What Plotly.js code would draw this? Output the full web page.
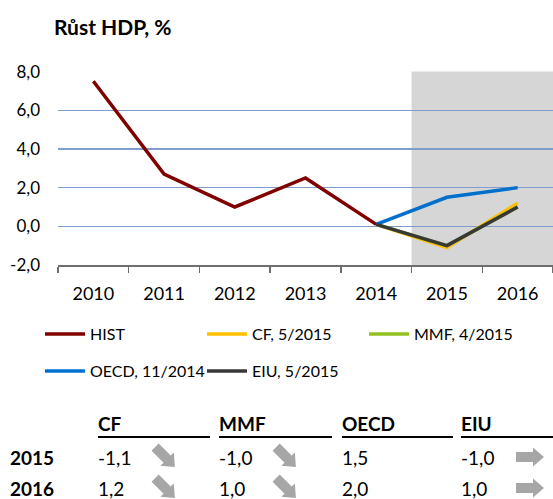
<!DOCTYPE html>
<html>
<head>
<meta charset="utf-8">
<script src="https://cdn.plot.ly/plotly-3.0.1.min.js"></script>
<style>
html,body{margin:0;padding:0;background:#fff;}
#chart{width:553px;height:499px;}
</style>
</head>
<body>
<div id="chart"></div>
<script>
// ---- data ----
const years = ['2010','2011','2012','2013','2014','2015','2016'];
const histYears = ['2010','2011','2012','2013','2014'];
const histValues = [7.5, 2.7, 1.0, 2.5, 0.1];
const fcYears = ['2014','2015','2016'];
const cfValues = [0.1, -1.1, 1.2];
const mmfValues = [0.1, -1.0, 1.0];
const oecdValues = [0.1, 1.5, 2.0];
const eiuValues = [0.1, -1.0, 1.0];
const seriesNames = ['HIST','CF, 5/2015','MMF, 4/2015','OECD, 11/2014','EIU, 5/2015'];
const yTickVals = [-2, 0, 2, 4, 6, 8];
const yTickLabels = ['-2,0','0,0','2,0','4,0','6,0','8,0'];
const tableCols = ['CF','MMF','OECD','EIU'];
const tableRows = ['2015','2016'];
const tableTrend = ['down','down','none','right'];

// ---- layout helpers (pixel -> paper) ----
const W = 553, H = 499, ML = 58, MR = 0, MT = 71, MB = 234;
const PW = W - ML - MR, PH = H - MT - MB;
const X = px => (px - ML) / PW;
const Y = py => (H - MB - py) / PH;
const fmt = v => v.toFixed(1).replace('.', ',');
const FONT = 'Lato, Carlito, Calibri, sans-serif';

const colors = ['#800000', '#FFC000', '#92C020', '#0070CC', '#383838'];

const traces = [
  {x: histYears, y: histValues, name: seriesNames[0], legend: 'legend'},
  {x: fcYears, y: cfValues, name: seriesNames[1], legend: 'legend'},
  {x: fcYears, y: mmfValues, name: seriesNames[2], legend: 'legend'},
  {x: fcYears, y: oecdValues, name: seriesNames[3], legend: 'legend2'},
  {x: fcYears, y: eiuValues, name: seriesNames[4], legend: 'legend2'}
].map((t, i) => Object.assign(t, {
  type: 'scatter', mode: 'lines',
  line: {color: colors[i], width: 3.5},
  hoverinfo: 'skip'
}));

// ---- table ----
const colX = [98, 219, 342, 461];
const colEnd = [210, 332, 453, 553];
const arrowX = [165, 286, null, 530];
const rowY = [457, 488];
const headerY = 423;
const lineY = 437;
const fcSeries = [cfValues, mmfValues, oecdValues, eiuValues];

const annotations = [];
const shapes = [];

// forecast shading
shapes.push({type: 'rect', xref: 'x', yref: 'y', x0: 4.5, x1: 6.5, y0: -2, y1: 8,
  fillcolor: '#D6D6D6', line: {width: 0}, layer: 'below'});

function arrowPath(cx, cy, angleDeg) {
  const pts = [[-14,-5],[3,-5],[3,-9.5],[14,0],[3,9.5],[3,5],[-14,5]];
  const a = angleDeg * Math.PI / 180;
  return pts.map((p, i) => {
    const rx = p[0]*Math.cos(a) - p[1]*Math.sin(a);
    const ry = p[0]*Math.sin(a) + p[1]*Math.cos(a);
    return (i ? 'L' : 'M') + X(cx + rx).toFixed(5) + ',' + Y(cy + ry).toFixed(5);
  }).join(' ') + ' Z';
}

const TF = 19;
tableCols.forEach((c, j) => {
  annotations.push({xref: 'paper', yref: 'paper', x: X(colX[j] - 2), y: Y(headerY),
    xanchor: 'left', yanchor: 'middle', showarrow: false,
    text: '<b>' + c + '</b>', font: {family: FONT, size: TF, color: '#000'}});
  shapes.push({type: 'line', xref: 'paper', yref: 'paper',
    x0: X(colX[j]), x1: X(colEnd[j]), y0: Y(lineY), y1: Y(lineY),
    line: {color: '#000', width: 2}});
  tableRows.forEach((r, i) => {
    annotations.push({xref: 'paper', yref: 'paper', x: X(colX[j] - 2), y: Y(rowY[i]),
      xanchor: 'left', yanchor: 'middle', showarrow: false,
      text: fmt(fcSeries[j][i + 1]), font: {family: FONT, size: TF, color: '#000'}});
    if (tableTrend[j] !== 'none') {
      shapes.push({type: 'path', xref: 'paper', yref: 'paper',
        path: arrowPath(arrowX[j], rowY[i], tableTrend[j] === 'down' ? 45 : 0),
        fillcolor: '#A6A6A6', line: {width: 0}});
    }
  });
});
tableRows.forEach((r, i) => {
  annotations.push({xref: 'paper', yref: 'paper', x: X(8), y: Y(rowY[i]),
    xanchor: 'left', yanchor: 'middle', showarrow: false,
    text: '<b>' + r + '</b>', font: {family: FONT, size: TF, color: '#000'}});
});

// title
annotations.push({xref: 'paper', yref: 'paper', x: X(52), y: Y(27),
  xanchor: 'left', yanchor: 'middle', showarrow: false,
  text: '<b>Růst HDP, %</b>', font: {family: FONT, size: 21, color: '#000'}});

const legendCommon = {orientation: 'h', xanchor: 'left', yanchor: 'middle',
  font: {family: FONT, size: 16, color: '#000'}, bgcolor: 'rgba(0,0,0,0)',
  entrywidth: 107, entrywidthmode: 'pixels', itemwidth: 40, tracegroupgap: 0};

const layout = {
  width: W, height: H,
  margin: {l: ML, r: MR, t: MT, b: MB, pad: 0},
  paper_bgcolor: '#fff', plot_bgcolor: 'rgba(0,0,0,0)',
  font: {family: FONT, size: 18, color: '#000'},
  showlegend: true,
  legend: Object.assign({x: X(40), y: Y(334)}, legendCommon),
  legend2: Object.assign({x: X(40), y: Y(371)}, legendCommon),
  xaxis: {type: 'category', categoryorder: 'array', categoryarray: years,
    range: [-0.5, 6.5], showgrid: false, zeroline: false,
    showline: true, linecolor: '#6E6E6E', linewidth: 1.5,
    ticks: 'outside', tickson: 'boundaries', ticklen: 6, tickcolor: '#6E6E6E', tickwidth: 1.5,
    tickfont: {family: FONT, size: 18, color: '#000'}, ticklabelstandoff: 12, fixedrange: true},
  yaxis: {range: [-2, 8.03], tickvals: yTickVals, ticktext: yTickLabels,
    showgrid: true, gridcolor: '#7F9ECC', gridwidth: 1.2, zeroline: false, showline: false,
    ticks: '', tickfont: {family: FONT, size: 17, color: '#000'}, ticklabelstandoff: 17, fixedrange: true},
  shapes: shapes,
  annotations: annotations
};

Plotly.newPlot('chart', traces, layout, {displayModeBar: false, staticPlot: true});
</script>
</body>
</html>
